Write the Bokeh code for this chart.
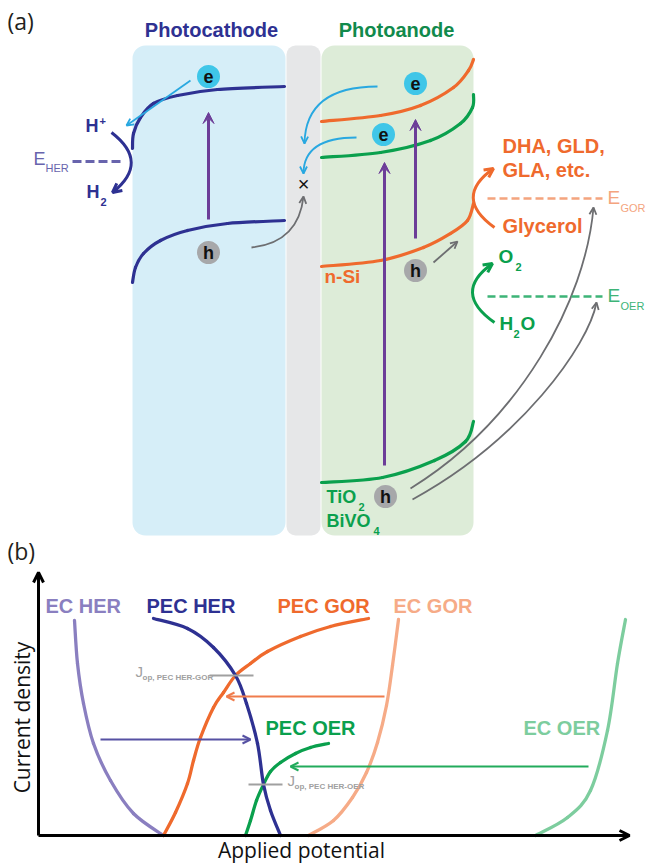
import math
from bokeh.plotting import figure
from bokeh.models import Range1d, BoxAnnotation, Arrow, VeeHead, OpenHead
from bokeh.core.properties import value
from bokeh.embed import file_html
from bokeh.resources import INLINE

# ---------------- colours ----------------
NAVY = "#2e3192"
ORANGE = "#ef6a2d"
GREEN = "#0aa04d"
DKGREEN = "#118a4c"
CYAN = "#3fc6e8"
CYAN_AR = "#29a8e0"
PURPLE = "#6c3d98"
GREY_H = "#a7a8aa"
GREY_AR = "#6d6e71"
EHER_C = "#6864ad"
EGOR_C = "#f4a47e"
EOER_C = "#3db477"
EC_HER_C = "#8a7fc0"
EC_GOR_C = "#f6ab87"
EC_OER_C = "#7dcd9e"
JOP_C = "#a0a0a0"

# ---------------- panel (a) data ----------------
box_left = [132, 286, 321]
box_right = [285, 320, 473]
box_top = [45, 45, 45]
box_bottom = [535, 535, 535]
box_color = ["#d6eef8", "#e6e7e8", "#ddecd8"]
box_radius = [13, 9, 13]

cath_cb_x = [132, 133, 140, 153, 177, 217, 284]
cath_cb_y = [148, 133, 117, 103, 95, 89, 86]
cath_vb_x = [132, 135, 143, 160, 187, 227, 284]
cath_vb_y = [282, 267, 253, 240, 230, 223, 220]
nsi_cb_x = [321, 380, 420, 453, 468, 473]
nsi_cb_y = [121, 115, 105, 87, 70, 59]
tio_cb_x = [321, 380, 430, 460, 472, 473]
tio_cb_y = [157, 152, 140, 123, 107, 94]
nsi_vb_x = [321, 380, 423, 450, 467, 473]
nsi_vb_y = [266, 260, 247, 233, 220, 203]
tio_vb_x = [321, 382, 434, 465, 473]
tio_vb_y = [482, 477, 460, 441, 421]

e_x = [208, 415, 383]
e_y = [76, 83, 134]
h_x = [208, 415, 385]
h_y = [252, 270, 496]
carrier_r = 11.5

exc_x = [208, 415, 384]
exc_y0 = [219, 238, 465]
exc_y1 = [112, 119, 162]

# ---------------- panel (b) data ----------------
ec_her_x = [74, 77, 83, 93, 110, 133, 163]
ec_her_y = [620, 663, 703, 743, 780, 813, 835]
pec_her_x = [153, 187, 213, 235, 246, 257, 263, 270, 280]
pec_her_y = [618, 628, 647, 675, 703, 743, 784, 810, 835]
pec_gor_x = [163, 175, 187, 193, 200, 213, 223, 235, 250, 267, 300, 330, 368]
pec_gor_y = [835, 812, 783, 760, 737, 707, 692, 675, 663, 651, 636, 626, 618]
ec_gor_x = [308, 333, 352, 366, 377, 386, 392, 398]
ec_gor_y = [835, 820, 797, 772, 742, 705, 665, 619]
pec_oer_x = [245, 250, 256, 263, 270, 280, 295, 310, 328]
pec_oer_y = [835, 820, 800, 784, 771, 762, 753, 747, 743]
ec_oer_x = [535, 567, 590, 607, 617, 625]
ec_oer_y = [835, 817, 790, 730, 663, 619]

shift_y = [739, 696, 766]
shift_x0 = [100, 384, 588]
shift_x1 = [250, 226, 290]
shift_c = ["#5651a3", "#f07c4c", "#22ab5c"]

jop_y = [675, 784]
jop_x0 = [209, 248]
jop_x1 = [253, 282]

W, H = 649, 863
p = figure(width=W, height=H, x_range=Range1d(0, W), y_range=Range1d(H, 0),
           output_backend="svg", toolbar_location=None, min_border=0,
           x_axis_type=None, y_axis_type=None)
p.grid.visible = False
p.outline_line_color = None
p.background_fill_color = "white"
p.border_fill_color = "white"

FONT = "Liberation Sans"


def txt(x, y, s, size, color, style="bold", align="left", font=FONT, angle=0.0):
    # y (or x for rotated text) is the alphabetic baseline; draw with a centred baseline
    if angle == 0.0:
        yy, xx = y - 0.35 * size, x
    else:
        yy, xx = y, x - 0.35 * size
    p.text(x=[xx], y=[yy], text=[s], text_font=value(font), text_font_size=value(f"{size}px"),
           text_color=color, text_font_style=style, text_align=align, text_baseline="middle",
           angle=angle)


def smooth(xs, ys, color, width):
    n = len(xs)
    X = [xs[0]] + list(xs) + [xs[-1]]
    Y = [ys[0]] + list(ys) + [ys[-1]]
    d = dict(x0=[], y0=[], x1=[], y1=[], cx0=[], cy0=[], cx1=[], cy1=[])
    for i in range(n - 1):
        P0x, P1x, P2x, P3x = X[i], X[i + 1], X[i + 2], X[i + 3]
        P0y, P1y, P2y, P3y = Y[i], Y[i + 1], Y[i + 2], Y[i + 3]
        d["x0"].append(P1x); d["y0"].append(P1y)
        d["x1"].append(P2x); d["y1"].append(P2y)
        d["cx0"].append(P1x + (P2x - P0x) / 6.0); d["cy0"].append(P1y + (P2y - P0y) / 6.0)
        d["cx1"].append(P2x - (P3x - P1x) / 6.0); d["cy1"].append(P2y - (P3y - P1y) / 6.0)
    p.bezier(line_color=color, line_width=width, line_cap="round", **d)


def arrow(xs, ys, xe, ye, color, lw=2.0, size=9, kind="open", body=True):
    if kind == "open":
        hd = OpenHead(size=size, line_color=color, line_width=lw)
    else:
        hd = VeeHead(size=size, fill_color=color, line_color=color, line_width=1)
    p.add_layout(Arrow(end=hd, x_start=xs, y_start=ys, x_end=xe, y_end=ye,
                       line_color=color, line_width=lw, line_alpha=1.0 if body else 0.0))


def qarrow(x0, y0, cx, cy, x1, y1, color, lw, size):
    p.quadratic(x0=[x0], y0=[y0], cx=[cx], cy=[cy], x1=[x1], y1=[y1], line_color=color,
                line_width=lw)
    arrow(cx, cy, x1, y1, color, lw=lw, size=size, body=False)


def carrow(x0, y0, cx0, cy0, cx1, cy1, x1, y1, color, lw, size):
    p.bezier(x0=[x0], y0=[y0], cx0=[cx0], cy0=[cy0], cx1=[cx1], cy1=[cy1], x1=[x1], y1=[y1],
             line_color=color, line_width=lw)
    arrow(cx1, cy1, x1, y1, color, lw=lw, size=size, body=False)


# ---------------- panel (a) ----------------
for l, r, t, b, c, rad in zip(box_left, box_right, box_top, box_bottom, box_color, box_radius):
    p.add_layout(BoxAnnotation(left=l, right=r, top=t, bottom=b, fill_color=c, fill_alpha=1.0,
                               line_color=None, border_radius=rad, level="underlay"))

txt(7, 29, "(a)", 23, "#231f20", style="normal", font="Open Sans")
txt(211, 36, "Photocathode", 20, NAVY, align="center")
txt(396, 36, "Photoanode", 20, DKGREEN, align="center")

smooth(cath_cb_x, cath_cb_y, NAVY, 3.2)
smooth(cath_vb_x, cath_vb_y, NAVY, 3.2)
smooth(nsi_cb_x, nsi_cb_y, ORANGE, 3.2)
smooth(tio_cb_x, tio_cb_y, GREEN, 3.2)
smooth(nsi_vb_x, nsi_vb_y, ORANGE, 3.2)
smooth(tio_vb_x, tio_vb_y, GREEN, 3.2)

for x, y0, y1 in zip(exc_x, exc_y0, exc_y1):
    arrow(x, y0, x, y1, PURPLE, lw=3, size=11, kind="vee")

p.circle(x=e_x, y=e_y, radius=carrier_r, fill_color=CYAN, line_color=None)
p.circle(x=h_x, y=h_y, radius=carrier_r, fill_color=GREY_H, line_color=None)
p.text(x=e_x, y=e_y, text=["e"] * 3, text_font=value(FONT), text_font_size=value("18px"),
       text_font_style="bold", text_color="#111111", text_align="center", text_baseline="middle")
p.text(x=h_x, y=h_y, text=["h"] * 3, text_font=value(FONT), text_font_size=value("18px"),
       text_font_style="bold", text_color="#111111", text_align="center", text_baseline="middle")

# electron / hole transfer arrows
arrow(190, 80, 126, 125, CYAN_AR, lw=1.8, size=7)
qarrow(377, 86, 305, 86, 304, 143, CYAN_AR, 1.8, 7)
qarrow(356, 137, 303, 137, 303, 173, CYAN_AR, 1.8, 7)
qarrow(251, 247, 298, 242, 303, 196, GREY_AR, 1.8, 7)
p.text(x=[303], y=[183], text=["×"], text_font=value(FONT), text_font_size=value("20px"),
       text_color="#111111", text_align="center", text_baseline="middle")
arrow(433, 262, 457, 241, GREY_AR, lw=1.8, size=7)
carrow(410, 488, 520, 420, 585, 300, 593, 207, GREY_AR, 1.8, 7)
carrow(412, 499, 520, 440, 588, 345, 596, 302, GREY_AR, 1.8, 7)

# HER side
txt(85, 132, "H", 18, NAVY)
txt(99, 124, "+", 11, NAVY)
txt(86, 198, "H", 18, NAVY)
txt(100, 205, "2", 11, NAVY)
qarrow(111, 132, 150, 162, 112, 192, NAVY, 3, 9)
txt(33, 165, "E", 18, EHER_C, style="normal")
txt(45, 171, "HER", 11, EHER_C, style="normal")
p.line(x=[72, 120], y=[161, 161], line_color=EHER_C, line_width=3, line_dash="9 4")

# GOR / OER side
txt(502, 152, "DHA, GLD,", 20, ORANGE)
txt(502, 176, "GLA, etc.", 20, ORANGE)
txt(502, 232, "Glycerol", 20, ORANGE)
qarrow(494, 227, 452, 197, 493, 168, ORANGE, 3, 9)
p.line(x=[487, 602], y=[198, 198], line_color=EGOR_C, line_width=2.6, line_dash="8 4")
txt(607, 204, "E", 19, EGOR_C, style="normal")
txt(620, 211, "GOR", 11, EGOR_C, style="normal")

txt(498, 263, "O", 19, GREEN)
txt(515, 270, "2", 11, GREEN)
qarrow(494, 322, 451, 292, 492, 263, GREEN, 3, 9)
p.line(x=[487, 602], y=[296, 296], line_color=EOER_C, line_width=2.6, line_dash="8 4")
txt(607, 302, "E", 19, EOER_C, style="normal")
txt(620, 309, "OER", 11, EOER_C, style="normal")
txt(499, 330, "H", 19, GREEN)
txt(513, 337, "2", 11, GREEN)
txt(520, 330, "O", 19, GREEN)

txt(324, 283, "n-Si", 19, ORANGE)
txt(326, 503, "TiO", 18, GREEN)
txt(358, 510, "2", 11, GREEN)
txt(326, 527, "BiVO", 18, GREEN)
txt(373, 534, "4", 11, GREEN)

# ---------------- panel (b) ----------------
txt(7, 559, "(b)", 23, "#231f20", style="normal", font="Open Sans")
arrow(38, 835, 38, 572, "#000000", lw=3, size=10)
arrow(38, 835, 629, 835, "#000000", lw=3, size=10)
txt(29, 717, "Current density", 21, "#111111", style="normal", align="center",
    font="Open Sans", angle=math.pi / 2)
txt(301, 857, "Applied potential", 21, "#111111", style="normal", align="center",
    font="Open Sans")

smooth(ec_her_x, ec_her_y, EC_HER_C, 3.3)
smooth(ec_gor_x, ec_gor_y, EC_GOR_C, 3.3)
smooth(ec_oer_x, ec_oer_y, EC_OER_C, 3.3)
smooth(pec_gor_x, pec_gor_y, ORANGE, 3.3)
smooth(pec_oer_x, pec_oer_y, GREEN, 3.3)
smooth(pec_her_x, pec_her_y, NAVY, 3.3)

for y, x0, x1, c in zip(shift_y, shift_x0, shift_x1, shift_c):
    arrow(x0, y, x1, y, c, lw=2, size=8)

for y, x0, x1 in zip(jop_y, jop_x0, jop_x1):
    p.line(x=[x0, x1], y=[y, y], line_color=JOP_C, line_width=2)

txt(135, 676, "J", 15, JOP_C, style="normal")
txt(142, 680, "op, PEC HER-GOR", 8, JOP_C)
txt(287, 785, "J", 15, JOP_C, style="normal")
txt(294, 789, "op, PEC HER-OER", 8, JOP_C)

txt(45, 612, "EC HER", 20, EC_HER_C)
txt(146, 612, "PEC HER", 20, NAVY)
txt(277, 612, "PEC GOR", 20, ORANGE)
txt(393, 612, "EC GOR", 20, EC_GOR_C)
txt(265, 734, "PEC OER", 20, GREEN)
txt(523, 734, "EC OER", 20, EC_OER_C)

open("out.html", "w").write(file_html(p, INLINE))
